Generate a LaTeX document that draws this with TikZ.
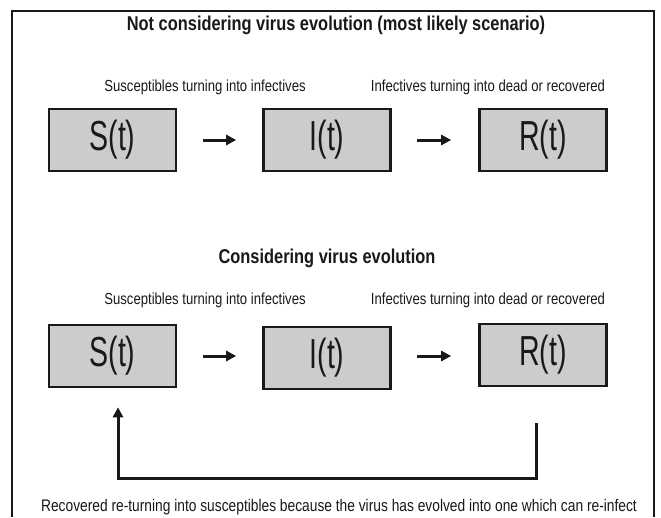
\documentclass[tikz,border=0pt]{standalone}
\usepackage{fontspec}
\setmainfont{Liberation Sans}[FakeStretch=0.82]
\newfontfamily\boxfont{Liberation Sans}[FakeStretch=0.68]
\usetikzlibrary{arrows.meta}
\definecolor{boxgray}{RGB}{204,204,204}
\definecolor{ink}{RGB}{25,25,25}
\tikzset{
  x=1pt, y=-1pt,
  statebox/.style={draw=ink, line width=2.6pt, fill=boxgray, minimum width=127pt, minimum height=62pt, inner sep=0pt, font=\boxfont\fontsize{42}{42}\selectfont, text=ink},
  arr/.style={draw=ink, line width=3pt, -{Triangle[length=10pt,width=10pt]}},
  title/.style={font=\bfseries\fontsize{20}{20}\selectfont, text=ink, inner sep=0pt},
  sublabel/.style={font=\fontsize{16}{16}\selectfont, text=ink, inner sep=0pt},
  botlabel/.style={font=\fontsize{16.8}{16.8}\selectfont, text=ink, inner sep=0pt},
  frameline/.style={draw=ink, line width=1.5pt},
}
\begin{document}
\begin{tikzpicture}
\useasboundingbox (0,0) rectangle (661,517);
\fill[white] (0,0) rectangle (661,517);
\draw[frameline] (12,517) -- (12,11) -- (654,11) -- (654,517);
% titles
\node[title] (t1) at (336,25) {Not considering virus evolution (most likely scenario)};
\node[title] (t2) at (327,258) {Considering virus evolution};
% row 1
\node[sublabel] (l1a) at (205,87) {Susceptibles turning into infectives};
\node[sublabel] (l1b) at (488,87) {Infectives turning into dead or recovered};
\node[statebox] (S1) at (112.5,140) {S(t)};
\node[statebox] (I1) at (327,140) {I(t)};
\node[statebox] (R1) at (543,140) {R(t)};
\draw[arr, shorten <=26pt, shorten >=26pt] (S1.east) -- (I1.west);
\draw[arr, shorten <=25pt, shorten >=27pt] (I1.east) -- (R1.west);
% row 2
\node[sublabel] (l2a) at (205,300) {Susceptibles turning into infectives};
\node[sublabel] (l2b) at (488,300) {Infectives turning into dead or recovered};
\node[statebox] (S2) at (112.5,356) {S(t)};
\node[statebox] (I2) at (327,358) {I(t)};
\node[statebox] (R2) at (543,355) {R(t)};
\draw[arr, shorten <=26pt, shorten >=26pt] (S2.east) -- (I2.west |- S2.east);
\draw[arr, shorten <=25pt, shorten >=27pt] (I2.east |- S2.east) -- (R2.west |- S2.east);
% feedback
\coordinate (fbR) at (536,423);
\coordinate (fbB) at (118,478);
\draw[arr, shorten >=19pt] (fbR) |- (fbB) -- (fbB |- S2.south);
\node[botlabel] (bot) at (339,507) {Recovered re-turning into susceptibles because the virus has evolved into one which can re-infect};
\end{tikzpicture}
\end{document}
